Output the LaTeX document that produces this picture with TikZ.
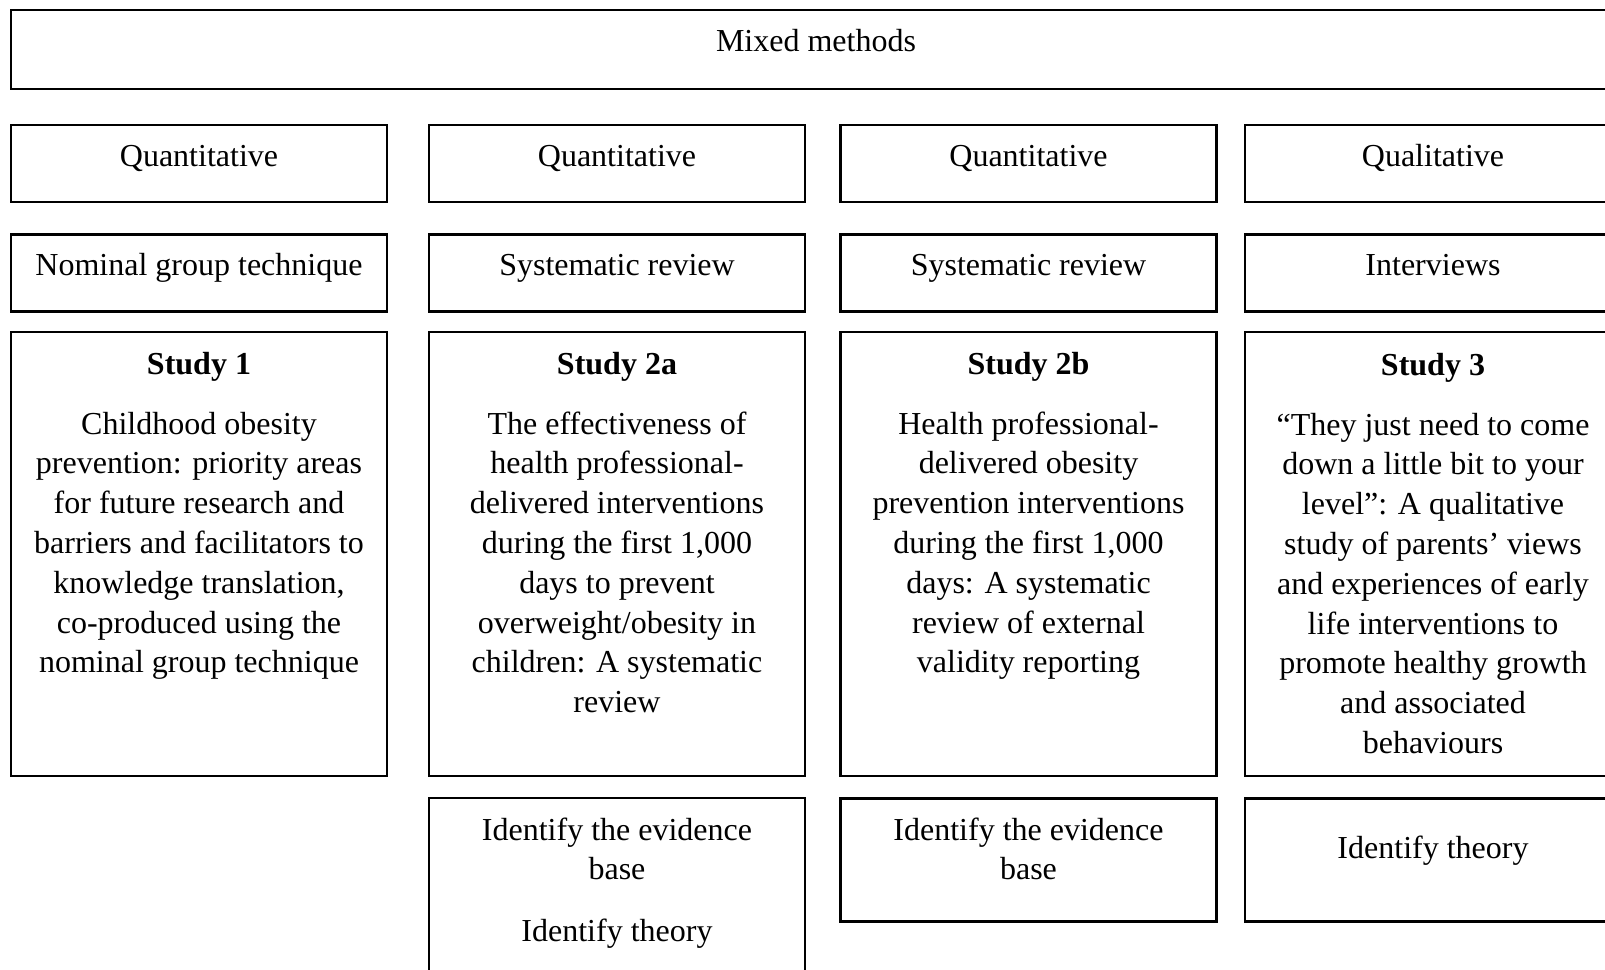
\documentclass[tikz,border=0pt]{standalone}
\usepackage{fontspec}
\setmainfont{Liberation Serif}
\begin{document}
\begin{tikzpicture}[x=1pt,y=-1pt,
  box/.style={draw, line width=2.4pt, inner sep=0pt, rectangle},
  colbox/.style={box, minimum width=376pt},
  txt/.style={inner sep=0pt, align=center, font=\fontsize{32}{39.8}\selectfont},
  txtn/.style={txt, anchor=north},
  head/.style={txt, anchor=base, font=\fontsize{32}{39.8}\selectfont\bfseries}]
\useasboundingbox (0,0) rectangle (1605,969);
\clip (0,0) rectangle (1605,969);
% top
\node[box, minimum width=1610pt, minimum height=79pt] (mm) at (816,49.5) {};
\node[txt, anchor=base] (mmt) at (816,51) {Mixed methods};
% row 2
\node[colbox, minimum height=77pt] (q1) at (199,163.5) {};
\node[colbox, minimum height=77pt] (q2) at (617,163.5) {};
\node[colbox, minimum height=77pt] (q3) at (1028.5,163.5) {};
\node[colbox, minimum height=77pt] (q4) at (1433,163.5) {};
\node[txt, anchor=base] (q1t) at (199,166) {Quantitative};
\node[txt, anchor=base] (q2t) at (617,166) {Quantitative};
\node[txt, anchor=base] (q3t) at (1028.5,166) {Quantitative};
\node[txt, anchor=base] (q4t) at (1433,166) {Qualitative};
% row 3
\node[colbox, minimum height=77pt] (m1) at (199,273) {};
\node[colbox, minimum height=77pt] (m2) at (617,273) {};
\node[colbox, minimum height=77pt] (m3) at (1028.5,273) {};
\node[colbox, minimum height=77pt] (m4) at (1433,273) {};
\node[txt, anchor=base] (m1t) at (199,275) {Nominal group technique};
\node[txt, anchor=base] (m2t) at (617,275) {Systematic review};
\node[txt, anchor=base] (m3t) at (1028.5,275) {Systematic review};
\node[txt, anchor=base] (m4t) at (1433,275) {Interviews};
% study boxes
\node[colbox, minimum height=444pt] (s1) at (199,554) {};
\node[colbox, minimum height=444pt] (s2) at (617,554) {};
\node[colbox, minimum height=444pt] (s3) at (1028.5,554) {};
\node[colbox, minimum height=444pt] (s4) at (1433,554) {};
\node[head] (s1h) at (199,374) {Study 1};
\node[head] (s2h) at (617,374) {Study 2a};
\node[head] (s3h) at (1028.5,374) {Study 2b};
\node[head] (s4h) at (1433,375) {Study 3};
\node[txtn] (s1t) at (199,406) {\strut Childhood obesity\\prevention: priority areas\\for future research and\\barriers and facilitators to\\knowledge translation,\\co-produced using the\\nominal group technique};
\node[txtn] (s2t) at (617,406) {\strut The effectiveness of\\health professional-\\delivered interventions\\during the first 1,000\\days to prevent\\overweight/obesity in\\children: A systematic\\review};
\node[txtn] (s3t) at (1028.5,406) {\strut Health professional-\\delivered obesity\\prevention interventions\\during the first 1,000\\days: A systematic\\review of external\\validity reporting};
\node[txtn] (s4t) at (1433,407) {\strut “They just need to come\\down a little bit to your\\level”: A qualitative\\study of parents’ views\\and experiences of early\\life interventions to\\promote healthy growth\\and associated\\behaviours};
% identify boxes
\node[colbox, minimum height=202pt] (i2) at (617,899) {};
\node[colbox, minimum height=123pt] (i3) at (1028.5,860) {};
\node[colbox, minimum height=123pt] (i4) at (1433,860) {};
\node[txtn] (i2t) at (617,812) {\strut Identify the evidence\\base\\[22pt]Identify theory};
\node[txtn] (i3t) at (1028.5,812) {\strut Identify the evidence\\base};
\node[txt, anchor=base] (i4t) at (1433,858) {Identify theory};
\end{tikzpicture}
\end{document}
